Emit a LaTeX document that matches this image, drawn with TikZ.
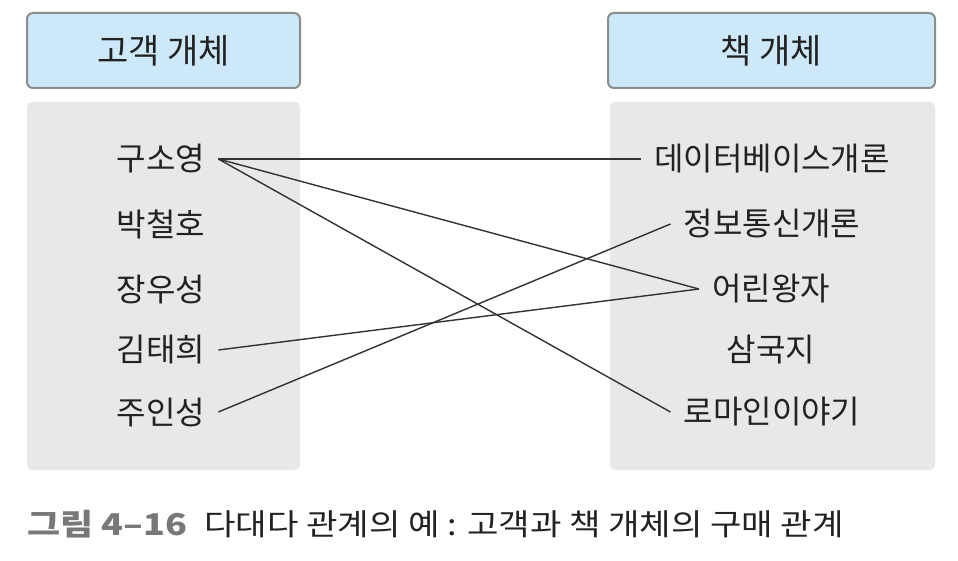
\documentclass[tikz,border=0pt]{standalone}
\usepackage{fontspec}
\setmainfont{Noto Sans CJK KR}
\definecolor{hdrfill}{RGB}{205,232,248}
\definecolor{hdrdraw}{RGB}{140,140,140}
\definecolor{panel}{RGB}{232,232,234}
\definecolor{ink}{RGB}{34,34,34}
\definecolor{linec}{RGB}{50,50,50}
\definecolor{capgray}{RGB}{120,120,120}
\begin{document}
\begin{tikzpicture}[x=1pt,y=-1pt,
  hdr/.style={draw=hdrdraw,line width=2pt,fill=hdrfill,rounded corners=6pt,minimum height=75pt,inner sep=0pt},
  hdrtext/.style={font=\fontsize{34}{36}\selectfont,text=ink},
  panelbox/.style={fill=panel,rounded corners=5pt},
  item/.style={font=\fontsize{32}{34}\selectfont,text=ink,inner xsep=13pt,inner ysep=2pt},
  link/.style={draw=linec,line width=1.4pt},
  captext/.style={anchor=west,inner sep=0pt,font=\fontsize{30}{32}\selectfont}]
\useasboundingbox (0,0) rectangle (958,561);
% headers
\node[hdr,minimum width=273pt] (hl) at (163.5,50.5) {};
\node[hdrtext] (hlt) at (hl.center) {고객 개체};
\node[hdr,minimum width=327pt] (hr) at (771.5,50.5) {};
\node[hdrtext] (hrt) at (hr.center) {책 개체};
% panels
\fill[panelbox] (27,102) rectangle (300,470);
\fill[panelbox] (610,102) rectangle (935,470);
% left items
\node[item] (L1) at (161,159) {구소영};
\node[item] (L2) at (161,224) {박철호};
\node[item] (L3) at (161,290) {장우성};
\node[item] (L4) at (161,350) {김태희};
\node[item] (L5) at (161,412) {주인성};
% right items
\node[item] (R1) at (772,159) {데이터베이스개론};
\node[item] (R2) at (772,224) {정보통신개론};
\node[item] (R3) at (771,289) {어린왕자};
\node[item] (R4) at (771,350) {삼국지};
\node[item] (R5) at (772,412) {로마인이야기};
% links
\draw[link] (L1.east) -- (R1.west);
\draw[link] (L1.east) -- (R3.west);
\draw[link] (L1.east) -- (R5.west);
\draw[link] (L4.east) -- (R3.west);
\draw[link] (L5.east) -- (R2.west);
% caption
\node[captext] (capl) at (27,524) {\scalebox{1.2}[1]{\textcolor{capgray}{\bfseries 그림 4–16}}};
\node[captext] (capt) at (204,524) {\scalebox{1.14}[1]{\textcolor{ink}{다대다 관계의 예 : 고객과 책 개체의 구매 관계}}};
\end{tikzpicture}
\end{document}
